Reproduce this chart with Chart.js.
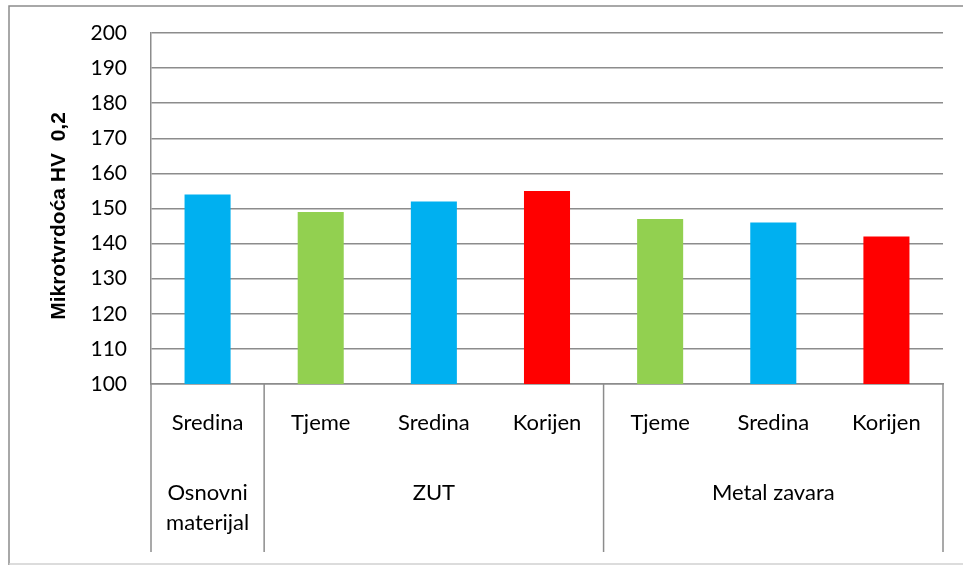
<!DOCTYPE html>
<html>
<head>
<meta charset="utf-8">
<title>Mikrotvrdoća HV 0,2</title>
<script src="https://cdn.jsdelivr.net/npm/chart.js@4/dist/chart.umd.min.js"></script>
<style>
  html, body { margin: 0; padding: 0; background: #ffffff; }
  #wrap { width: 963px; height: 565px; position: relative; }
</style>
</head>
<body>
<div id="wrap"><canvas id="c" width="963" height="565"></canvas></div>
<script>
// Measurement points (inner category row)
const positions = ['Sredina', 'Tjeme', 'Sredina', 'Korijen', 'Tjeme', 'Sredina', 'Korijen'];
// Zone groups: label lines and how many points each group spans
const groupLabels = [['Osnovni', 'materijal'], ['ZUT'], ['Metal zavara']];
const groupSizes = [1, 3, 3];
// Microhardness HV 0,2
const hardness = [154, 149, 152, 155, 147, 146, 142];
// Bar colour per position type
const positionColors = { 'Tjeme': '#92D050', 'Sredina': '#00B0F0', 'Korijen': '#FF0000' };
// Value axis
const yMin = 100, yMax = 200, yStep = 10;
const yTitle = 'Mikrotvrdoća HV  0,2';

const FONT = 'Lato, "Open Sans", sans-serif';
const GRID = '#8c8c8c';

// Draws the outer frame, the zone row of the category axis and the axis title
const multiLevelAxis = {
  id: 'multiLevelAxis',
  afterDraw(chart) {
    const ctx = chart.ctx;
    const x = chart.scales.x;
    const area = chart.chartArea;
    const half = (x.getPixelForValue(1) - x.getPixelForValue(0)) / 2;
    const sepBottom = 552;

    ctx.save();
    // group boundaries
    ctx.strokeStyle = GRID;
    ctx.lineWidth = 1.5;
    let idx = 0;
    const bounds = [x.getPixelForValue(0) - half];
    groupSizes.forEach(n => { idx += n; bounds.push(x.getPixelForValue(idx - 1) + half); });
    bounds.forEach(b => {
      ctx.beginPath();
      ctx.moveTo(b, area.bottom);
      ctx.lineTo(b, sepBottom);
      ctx.stroke();
    });

    // group labels
    ctx.fillStyle = '#000000';
    ctx.font = '22px ' + FONT;
    ctx.textAlign = 'center';
    ctx.textBaseline = 'middle';
    groupLabels.forEach((lines, g) => {
      const cx = (bounds[g] + bounds[g + 1]) / 2;
      lines.forEach((t, k) => ctx.fillText(t, cx, 493 + k * 30));
    });

    // axis title
    ctx.save();
    ctx.translate(59, 216);
    ctx.rotate(-Math.PI / 2);
    ctx.font = 'bold 21px "Liberation Sans", Arial, sans-serif';
    ctx.fillText(yTitle, 0, 0);
    ctx.restore();

    // outer frame
    ctx.lineWidth = 1.5;
    ctx.strokeStyle = '#8c8c8c';
    ctx.beginPath();
    ctx.moveTo(9, 565);
    ctx.lineTo(9, 6);
    ctx.lineTo(963, 6);
    ctx.stroke();
    ctx.strokeStyle = '#d0d0d0';
    ctx.beginPath();
    ctx.moveTo(9, 564);
    ctx.lineTo(963, 564);
    ctx.stroke();
    ctx.restore();
  }
};

new Chart(document.getElementById('c'), {
  type: 'bar',
  data: {
    labels: positions,
    datasets: [{
      data: hardness,
      backgroundColor: positions.map(p => positionColors[p]),
      borderWidth: 0,
      barPercentage: 0.407,
      categoryPercentage: 1.0
    }]
  },
  options: {
    responsive: false,
    animation: false,
    devicePixelRatio: 1,
    layout: { padding: { left: 0, top: 33, right: 20, bottom: 0 } },
    plugins: { legend: { display: false }, tooltip: { enabled: false } },
    scales: {
      y: {
        min: yMin,
        max: yMax,
        ticks: { stepSize: yStep, color: '#000000', font: { family: FONT, size: 21 }, padding: 24 },
        grid: { color: GRID, lineWidth: 1.5, drawTicks: false },
        border: { color: GRID, width: 1.5 },
        afterFit(scale) {
          scale.width = 151;
          // the end labels only need half their height above/below the plot
          scale.paddingTop = 12;
          scale.paddingBottom = 12;
        }
      },
      x: {
        ticks: { color: '#000000', font: { family: FONT, size: 22 }, padding: 26, maxRotation: 0, autoSkip: false },
        grid: { display: false, drawTicks: false },
        border: { color: GRID, width: 1.5 },
        afterFit(scale) { scale.height = 181; }
      }
    }
  },
  plugins: [multiLevelAxis]
});
</script>
</body>
</html>
